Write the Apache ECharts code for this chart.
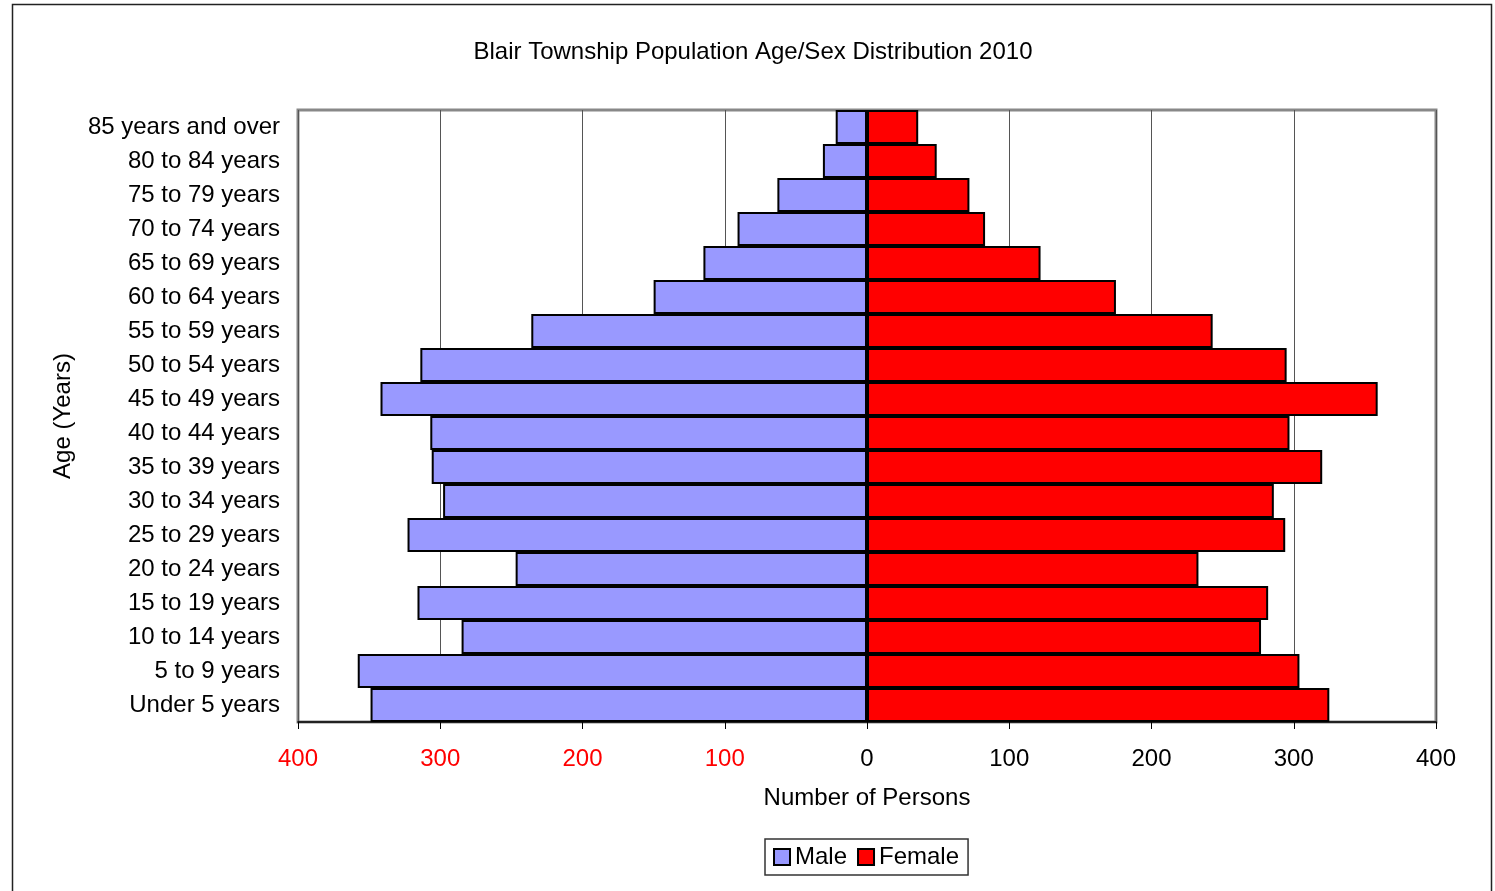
<!DOCTYPE html>
<html>
<head>
<meta charset="utf-8">
<script src="https://cdn.jsdelivr.net/npm/echarts@6/dist/echarts.min.js"></script>
<style>
html,body{margin:0;padding:0;background:#fff;}
#chart{width:1495px;height:891px;}
</style>
</head>
<body>
<div id="chart"></div>
<script>
const categories = ["Under 5 years","5 to 9 years","10 to 14 years","15 to 19 years","20 to 24 years","25 to 29 years","30 to 34 years","35 to 39 years","40 to 44 years","45 to 49 years","50 to 54 years","55 to 59 years","60 to 64 years","65 to 69 years","70 to 74 years","75 to 79 years","80 to 84 years","85 years and over"];
const male = [349, 358, 285, 316, 247, 323, 298, 306, 307, 342, 314, 236, 150, 115, 91, 63, 31, 22];
const female = [325, 304, 277, 282, 233, 294, 286, 320, 297, 359, 295, 243, 175, 122, 83, 72, 49, 36];
const xTicks = [-400, -300, -200, -100, 0, 100, 200, 300, 400];

const FONT = "Liberation Sans, Arial, sans-serif";
const chart = echarts.init(document.getElementById('chart'), null, {renderer:'canvas'});
chart.setOption({
  animation: false,
  backgroundColor: '#fff',
  title: {
    text: 'Blair Township Population Age/Sex Distribution 2010',
    left: 748, top: 35, textAlign: 'center',
    textStyle: {fontFamily: FONT, fontSize: 24, fontWeight: 'normal', color: '#000'}
  },
  graphic: [{
    type: 'rect', shape: {x: 12.5, y: 4.5, width: 1479, height: 900},
    style: {fill: 'none', stroke: '#222', lineWidth: 1.5}, z: -1
  }],
  legend: {
    left: 765, top: 839,
    data: ['Male', 'Female'],
    itemWidth: 16, itemHeight: 16, itemGap: 10,
    padding: [6, 9, 6, 8],
    borderColor: '#333', borderWidth: 1.5,
    textStyle: {fontFamily: FONT, fontSize: 24, color: '#000', padding: [0,0,0,0]},
    icon: 'rect'
  },
  grid: {
    left: 298, right: 59, top: 110, bottom: 169,
    show: true, borderColor: '#888', borderWidth: 3, backgroundColor: '#fff'
  },
  xAxis: {
    type: 'value', min: -400, max: 400, interval: 100,
    name: 'Number of Persons', nameLocation: 'middle', nameGap: 64,
    nameTextStyle: {fontFamily: FONT, fontSize: 24, color: '#000'},
    axisLine: {show: true, onZero: false, lineStyle: {color: '#000', width: 1.5}},
    axisTick: {show: true, length: 7, lineStyle: {color: '#000'}},
    axisLabel: {
      margin: 25, fontFamily: FONT, fontSize: 24,
      formatter: v => String(Math.abs(v)),
      color: v => (v < 0 ? '#ff0000' : '#000')
    },
    splitLine: {show: true, lineStyle: {color: '#555', width: 1}}
  },
  yAxis: {
    type: 'category', data: categories,
    name: 'Age (Years)', nameLocation: 'middle', nameGap: 223, nameRotate: 90,
    nameTextStyle: {fontFamily: FONT, fontSize: 24, color: '#000'},
    axisLine: {show: false}, axisTick: {show: false},
    axisLabel: {margin: 18, fontFamily: FONT, fontSize: 24, color: '#000'}
  },
  series: [{
    name: 'Male', type: 'bar', stack: 'pop',
    data: male.map(v => -v),
    barCategoryGap: 0, barWidth: '100%',
    itemStyle: {color: '#9999ff', borderColor: '#000', borderWidth: 2}
  }, {
    name: 'Female', type: 'bar', stack: 'pop',
    data: female,
    barCategoryGap: 0, barWidth: '100%',
    itemStyle: {color: '#ff0000', borderColor: '#000', borderWidth: 2}
  }]
});
</script>
</body>
</html>
